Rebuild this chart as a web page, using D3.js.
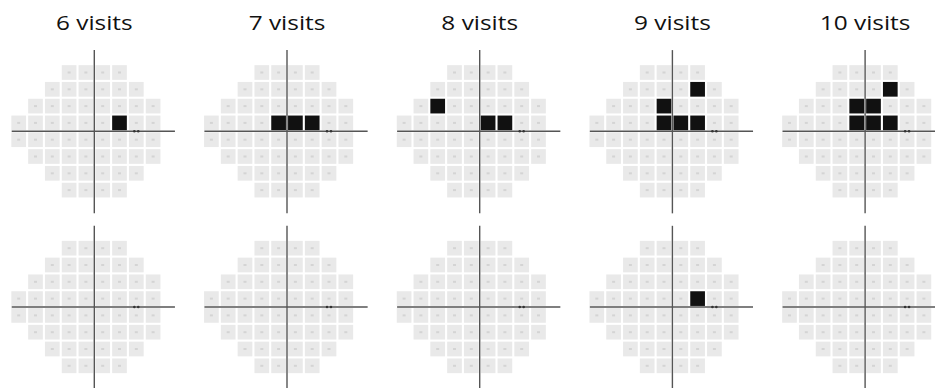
<!DOCTYPE html>
<html>
<head>
<meta charset="utf-8">
<script src="https://cdn.jsdelivr.net/npm/d3@7"></script>
<style>
  html, body { margin: 0; padding: 0; background: #fff; }
  svg { display: block; }
</style>
</head>
<body>
<svg id="chart" width="935" height="388"></svg>
<script>
// Panel titles (number of visits in the series)
const visits = ["6 visits", "7 visits", "8 visits", "9 visits", "10 visits"];
const fieldRows = ["upper", "lower"];

// 24-2 test grid: rows (degrees, superior to inferior) and their point x-positions (degrees)
const gridRowY = [21, 15, 9, 3, -3, -9, -15, -21];
const gridRowX = [
  [-9, -3, 3, 9],
  [-15, -9, -3, 3, 9, 15],
  [-21, -15, -9, -3, 3, 9, 15, 21],
  [-27, -21, -15, -9, -3, 3, 9, 15, 21],
  [-27, -21, -15, -9, -3, 3, 9, 15, 21],
  [-21, -15, -9, -3, 3, 9, 15, 21],
  [-15, -9, -3, 3, 9, 15],
  [-9, -3, 3, 9]
];

// Flagged (progressing) locations [x, y] per panel
const flaggedUpper = [
  [[9, 3]],
  [[-3, 3], [3, 3], [9, 3]],
  [[-15, 9], [3, 3], [9, 3]],
  [[9, 15], [-3, 9], [-3, 3], [3, 3], [9, 3]],
  [[9, 15], [-3, 9], [3, 9], [-3, 3], [3, 3], [9, 3]]
];
const flaggedLower = [
  [],
  [],
  [],
  [[9, 3]],
  []
];

// Blind spot marker location (degrees)
const blindSpot = [15, 0];

const svg = d3.select("#chart");

const panelX = d3.scalePoint().domain(visits).range([94.3, 865.1]);
const panelY = d3.scalePoint().domain(fieldRows).range([131.3, 307.0]);

// degrees -> local pixels within a panel
const x = d3.scaleLinear().domain([-30, 30]).range([-84, 84]);
const y = d3.scaleLinear().domain([-30, 30]).range([84, -84]);
const cell = x(5.25) - x(0);

const points = [];
gridRowY.forEach((gy, i) => gridRowX[i].forEach(gx => points.push([gx, gy])));

// Titles
svg.selectAll("text.title")
  .data(visits)
  .join("text")
  .attr("class", "title")
  .attr("transform", d => `translate(${panelX(d)},29.7) scale(1.22,1)`)
  .attr("text-anchor", "middle")
  .attr("font-family", "'Open Sans', sans-serif")
  .attr("font-size", 20)
  .attr("fill", "#111")
  .text(d => d);

fieldRows.forEach(rowKey => {
  const flaggedSet = rowKey === "upper" ? flaggedUpper : flaggedLower;
  visits.forEach((v, vi) => {
    const g = svg.append("g")
      .attr("transform", `translate(${panelX(v)},${panelY(rowKey)})`);

    const flagged = new Set(flaggedSet[vi].map(p => p.join(",")));

    // test locations
    g.selectAll("rect.pt")
      .data(points)
      .join("rect")
      .attr("class", "pt")
      .attr("x", d => x(d[0]) - cell / 2)
      .attr("y", d => y(d[1]) - cell / 2)
      .attr("width", cell)
      .attr("height", cell)
      .attr("fill", d => flagged.has(d.join(",")) ? "#111" : "#e9e9e9");

    // faint value marks at each unflagged location
    g.selectAll("rect.mk")
      .data(points.filter(d => !flagged.has(d.join(","))))
      .join("rect")
      .attr("class", "mk")
      .attr("x", d => x(d[0]) - 1.5)
      .attr("y", d => y(d[1]) - 1)
      .attr("width", 3)
      .attr("height", 2)
      .attr("fill", "#d4d4d4");

    // axes
    g.append("line")
      .attr("x1", x(-29.5)).attr("x2", x(28.8))
      .attr("y1", y(0)).attr("y2", y(0))
      .attr("stroke", "#555").attr("stroke-width", 1.4);
    g.append("line")
      .attr("x1", x(0)).attr("x2", x(0))
      .attr("y1", y(29)).attr("y2", y(-29.3))
      .attr("stroke", "#555").attr("stroke-width", 1.4);

    // blind spot marker
    g.selectAll("circle.bs")
      .data([-0.7, 0.7])
      .join("circle")
      .attr("class", "bs")
      .attr("cx", d => x(blindSpot[0] + d))
      .attr("cy", y(blindSpot[1]))
      .attr("r", 1.3)
      .attr("fill", "#333");
  });
});
</script>
</body>
</html>
